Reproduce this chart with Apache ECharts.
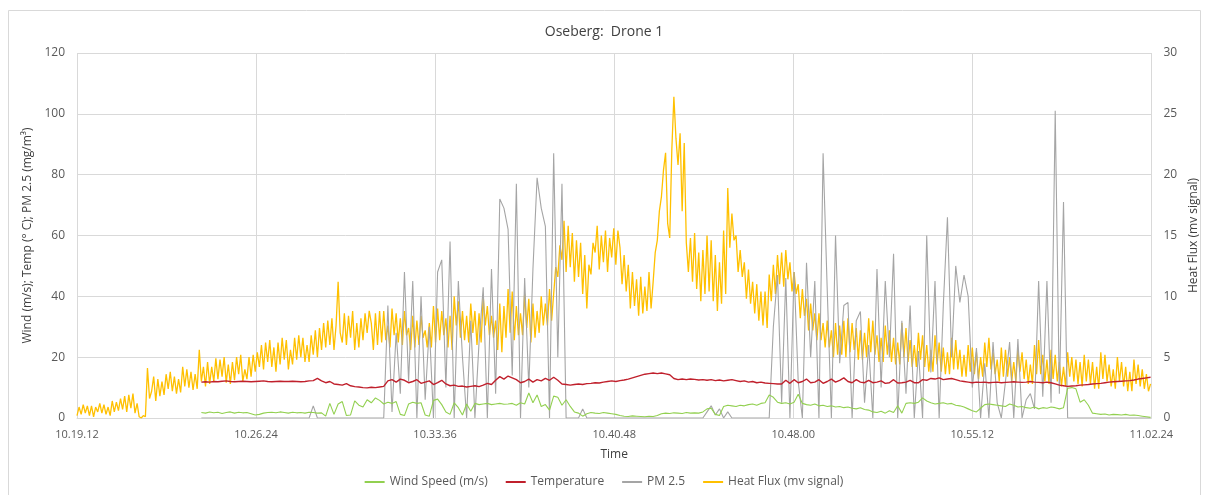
<!DOCTYPE html>
<html>
<head>
<meta charset="utf-8">
<script src="https://cdn.jsdelivr.net/npm/echarts@6/dist/echarts.min.js"></script>
<style>
html,body{margin:0;padding:0;background:#fff;}
#chart{width:1208px;height:495px;}
</style>
</head>
<body>
<div id="chart"></div>
<script>
// X axis: seconds since 10.19.12, ticks every 7 min 12 s
const xTickLabels = ['10.19.12','10.26.24','10.33.36','10.40.48','10.48.00','10.55.12','11.02.24'];
const tickStep = 432;

// Heat flux (mv signal), samples every 5 s from t = 0
const heatFluxStart = 0;
const heatFluxStep = 5;
const heatFlux = [
  0.2,0.9,0.3,1.1,0.4,1.0,0.2,1.0,0.1,0.9,0.5,1.2,0.4,1.1,0.3,0.9,0.2,1.4,0.5,1.3,0.6,1.6,0.7,1.8,0.5,1.9,0.8,2.0,0.4,1.2,
  0.1,0.0,0.2,0.1,4.1,1.6,
  2.2,3.4,1.4,3.2,1.8,3.0,1.9,3.6,2.4,3.8,2.2,3.4,2.0,3.2,2.1,4.2,2.6,4.0,2.5,3.8,2.3,3.6,2.4,5.6,3.0,4.2,
  2.6,4.6,2.8,4.2,3.0,4.9,3.2,4.8,3.4,5.0,2.9,4.4,2.8,4.6,3.1,5.0,3.6,5.2,3.0,4.0,3.2,5.0,3.4,5.2,3.8,5.4,
  4.2,6.0,4.0,6.2,4.6,6.4,4.2,5.8,3.8,6.2,4.4,6.6,4.8,6.4,4.0,5.6,4.4,6.6,4.8,6.8,5.0,6.6,4.6,6.0,4.6,6.8,
  5.2,7.2,5.0,7.4,5.6,7.8,5.8,8.0,6.0,8.2,5.6,7.6,11.2,7.0,6.2,8.6,6.0,8.4,6.6,8.8,5.6,7.8,5.8,8.2,6.4,8.6,7.0,8.8,
  7.8,5.6,8.6,6.0,8.8,6.2,8.8,6.4,7.6,5.8,9.0,6.8,8.6,6.2,8.2,6.0,8.8,6.8,7.4,5.6,8.4,5.8,8.0,6.0,8.4,6.6,7.2,5.8,
  7.8,5.8,9.2,6.2,9.0,6.4,8.8,6.8,8.2,5.8,8.4,5.6,10.0,7.6,9.6,6.6,8.8,6.4,8.4,6.2,9.4,7.0,8.8,6.0,8.6,6.2,10.0,7.6,9.2,6.8,8.4,6.6,
  8.0,5.6,9.4,5.4,9.2,6.6,10.6,7.0,10.4,6.4,9.2,6.8,8.6,6.8,10.2,7.4,9.8,6.2,9.4,6.6,8.8,7.0,10.0,7.6,9.4,7.6,10.6,8.0,10.2,12.4,11.6,14.2,
  13.0,16.2,12.0,15.8,12.4,15.2,11.2,14.6,11.6,14.4,10.2,13.4,9.0,12.6,11.8,14.4,13.6,15.8,12.2,15.0,12.8,15.4,12.0,14.8,13.2,15.6,12.6,15.4,
  14.0,11.0,13.4,10.4,12.6,9.0,12.0,9.2,11.4,8.4,11.6,8.6,10.8,8.8,12.0,9.0,11.2,13.6,14.6,17.0,18.2,20.4,21.8,16.0,14.8,22.0,26.4,23.0,
  20.8,23.4,17.0,22.6,14.4,12.0,14.8,11.2,15.2,10.6,13.6,9.6,13.8,10.2,15.0,10.4,14.6,9.6,13.4,8.8,12.8,9.4,15.4,10.2,18.9,14.0,16.8,14.6,
  15.0,12.0,13.8,11.6,12.8,9.8,12.2,9.4,11.2,8.6,11.0,8.0,10.4,7.6,10.4,7.4,11.8,9.6,12.6,10.2,13.4,11.0,13.6,10.8,13.8,11.4,12.8,10.4,
  12.0,10.2,11.0,8.2,10.6,8.4,9.8,7.2,9.4,7.2,8.6,6.4,8.6,6.4,7.8,5.8,8.0,5.8,7.2,5.0,7.8,5.2,
  7.6,5.2,8.0,5.0,8.2,5.4,7.8,5.6,
  7.4,4.8,7.2,4.8,7.0,5.0,8.2,5.4,
  8.0,5.2,6.8,4.6,6.6,4.6,7.6,5.2,
  7.2,4.6,6.6,4.4,6.2,4.4,7.8,5.0,
  7.4,4.6,6.4,4.2,6.0,4.2,7.0,4.8,
  6.8,4.2,6.0,3.8,5.6,3.8,6.8,4.4,
  6.2,3.8,5.8,3.6,5.4,3.6,6.6,4.0,
  6.4,4.0,5.6,3.4,5.2,3.4,6.0,3.8,
  5.8,3.6,5.4,3.2,5.0,3.4,6.2,4.2,
  6.6,4.0,5.4,3.6,4.8,3.0,5.8,3.4,
  5.6,3.4,5.0,3.0,4.6,3.0,5.6,3.8,
  5.4,3.2,4.8,2.8,4.4,2.8,6.0,3.6,
  6.4,3.6,5.2,3.0,4.8,2.8,5.6,3.2,
  5.2,3.0,4.6,2.6,4.2,2.6,5.4,3.4,
  5.0,3.0,4.8,2.8,4.6,2.6,5.2,3.0,
  4.8,2.8,4.6,2.4,4.2,2.4,5.4,3.2,
  5.2,3.0,4.4,2.6,4.0,2.4,5.0,3.0,
  4.6,2.6,4.2,2.2,3.8,2.2,4.8,2.8,
  4.4,2.6,4.0,2.4,3.6,2.2,2.8
];

// PM 2.5 (mg/m3), samples every 10 s from t = 300
const pmStart = 300;
const pmStep = 10;
const pm25 = [
  0,0,0,0,0,0,0,0,0,0,0,0,0,0,0,0,0,0,0,0,0,0,0,0,0,0,0,
  4,0,0,0,0,0,0,0,0,0,0,0,0,0,0,0,0,0,
  37,2,28,8,48,12,45,0,40,6,30,0,48,52,10,58,0,45,20,0,32,0,25,43,0,49,8,72,69,62,14,77,0,46,10,49,79,69,63,0,87,20,77,0,
  0,0,0,3,
  0,0,0,0,0,0,0,0,0,0,0,0,0,0,0,0,0,0,0,0,0,0,0,0,0,0,0,0,0,
  2,4,1,3,0,2,
  0,0,0,0,0,0,0,0,0,0,
  30,47,5,46,0,48,12,0,51,20,
  45,0,87,42,0,60,18,37,38,0,
  32,35,5,24,0,49,10,45,20,54,
  0,32,8,37,0,22,0,60,15,45,
  0,37,66,20,50,38,47,40,10,23,
  0,18,0,25,5,0,12,25,0,26,
  0,6,8,3,45,7,45,5,101,8,
  71,0,
  0,0,0,0,0,0,0,0,0,0,0,0,0,0,0,0,0,0,0,0
];

// Temperature (deg C), samples every 10 s from t = 300
const tempStart = 300;
const tempStep = 10;
const temperature = [
  11.8,11.9,11.8,12.0,11.9,12.1,12.2,12.0,11.9,12.0,12.1,12.0,11.9,12.0,12.1,12.2,12.0,11.9,12.0,12.1,12.0,12.0,12.1,12.0,11.9,12.0,12.2,12.3,
  13.0,12.2,11.6,12.0,11.2,11.0,10.8,11.3,10.6,10.3,10.2,10.0,9.9,10.1,10.0,10.2,10.4,
  12.2,12.6,11.8,12.8,12.4,11.6,12.0,12.6,11.4,11.8,12.2,11.0,11.6,12.4,
  11.2,10.6,10.8,10.4,10.5,10.2,10.4,10.6,10.3,10.8,11.4,11.0,
  12.4,13.6,12.8,13.8,13.2,12.6,11.6,12.0,12.8,11.8,12.6,12.2,13.0,12.4,13.4,
  12.4,11.2,11.0,10.8,11.0,11.2,11.0,11.3,11.4,11.6,11.5,11.8,12.0,12.2,12.0,
  12.3,12.5,12.8,13.2,13.6,14.0,14.4,14.6,14.8,14.6,14.8,14.5,14.2,13.0,12.6,
  12.8,12.6,12.8,12.7,12.5,12.6,12.4,12.6,12.3,12.5,12.2,12.4,12.6,12.3,12.0,
  12.2,11.8,12.0,11.6,11.8,11.5,11.4,11.3,11.2,11.2,12.4,11.4,12.6,11.6,12.0,
  12.8,11.6,11.8,12.6,11.4,12.0,12.8,11.8,12.4,13.2,12.0,11.6,12.6,11.8,11.6,
  12.4,11.6,11.8,12.2,11.4,11.6,12.6,11.5,11.6,11.8,12.4,11.6,11.6,12.6,12.4,
  13.0,12.8,13.2,12.6,12.8,13.0,12.6,12.2,12.0,11.8,11.6,11.8,11.7,11.8,11.6,
  11.7,11.8,11.6,11.7,11.8,11.9,11.8,11.7,11.8,12.0,11.8,11.7,11.6,11.8,11.6,
  11.2,10.8,10.6,10.4,10.5,10.6,10.8,10.9,11.0,11.2,11.3,11.4,11.6,11.8,11.9,
  12.0,12.1,12.2,12.3,12.5,12.8,13.0,13.2,13.4
];

// Wind speed (m/s), samples every 10 s from t = 300
const windStart = 300;
const windStep = 10;
const windSpeed = [
  1.8,1.6,2.0,1.7,1.9,1.5,1.8,2.0,1.6,1.9,1.7,1.8,1.4,1.0,1.2,1.6,1.8,1.9,1.7,2.0,1.8,1.6,1.9,1.7,1.8,1.6,1.9,1.8,1.6,1.7,
  0.6,4.8,1.2,4.6,5.4,0.8,1.0,5.6,4.2,3.6,6.0,5.0,6.6,5.8,4.6,
  5.2,4.8,5.4,1.2,0.8,4.6,5.2,4.8,5.0,1.0,0.6,5.8,6.2,4.4,2.0,
  1.2,5.0,3.4,1.0,4.6,2.2,4.8,4.4,4.6,4.8,4.4,4.6,4.8,4.5,4.6,
  4.8,4.2,5.0,4.6,8.2,5.0,7.6,3.8,4.4,2.6,7.2,6.8,4.2,6.0,3.8,
  2.0,1.6,0.6,1.4,1.8,1.6,1.5,1.8,1.6,1.4,1.2,0.8,0.6,0.5,0.7,
  0.6,0.5,0.4,0.6,0.5,0.8,1.4,1.6,1.5,1.7,1.6,1.5,1.8,1.6,1.7,
  1.6,2.0,3.0,3.2,1.2,0.8,3.8,4.2,4.0,3.8,4.2,4.0,4.4,4.6,4.2,
  4.8,5.0,7.6,6.8,5.2,4.8,5.0,4.6,5.2,7.8,4.8,4.4,4.2,4.6,4.0,
  4.2,3.8,4.0,3.6,3.8,3.4,3.6,3.2,3.0,3.4,2.8,2.6,2.0,1.8,2.2,
  1.6,2.4,1.8,4.0,1.6,4.8,5.0,4.8,5.2,6.6,5.6,5.0,4.6,4.8,5.0,
  4.6,4.8,4.2,4.0,3.6,3.0,2.4,2.0,3.2,4.4,4.6,4.4,4.2,4.0,3.8,
  4.6,4.2,3.6,3.8,3.4,3.2,3.6,3.0,3.4,3.2,3.6,3.4,3.0,3.4,9.8,
  10.0,9.6,5.2,6.0,4.2,1.6,1.4,1.2,1.3,1.0,1.2,1.1,1.0,1.2,0.9,
  1.0,0.8,0.6,0.4,0.2
];

function pairs(start, step, values) {
  return values.map((v, i) => [start + i * step, v]);
}

const chart = echarts.init(document.getElementById('chart'));
const font = 'Open Sans';
const txt = '#595959';
const grid = '#d9d9d9';

chart.setOption({
  animation: false,
  backgroundColor: '#ffffff',
  graphic: [{
    type: 'rect', shape: { x: 8.5, y: 10.5, width: 1192, height: 490 },
    style: { fill: 'none', stroke: '#d9d9d9', lineWidth: 1 }, silent: true, z: -10
  }],
  title: {
    text: 'Oseberg:  Drone 1', left: 'center', top: 20,
    textStyle: { fontFamily: font, fontSize: 14, fontWeight: 'normal', color: '#404040' }
  },
  legend: {
    bottom: 2, left: 'center', itemWidth: 20, itemHeight: 2, itemGap: 18,
    icon: 'rect',
    textStyle: { fontFamily: font, fontSize: 12, color: txt },
    data: ['Wind Speed (m/s)', 'Temperature', 'PM 2.5', 'Heat Flux (mv signal)']
  },
  grid: { left: 77, right: 50, top: 53, bottom: 77, containLabel: false },
  xAxis: {
    type: 'value', min: 0, max: tickStep * (xTickLabels.length - 1), interval: tickStep,
    name: 'Time', nameLocation: 'middle', nameGap: 31,
    nameTextStyle: { fontFamily: font, fontSize: 12, color: '#404040' },
    axisLine: { show: true, lineStyle: { color: grid } },
    axisTick: { show: false },
    axisLabel: { fontFamily: font, fontSize: 11, color: txt, margin: 11,
      formatter: v => xTickLabels[Math.round(v / tickStep)] || '' },
    splitLine: { show: true, lineStyle: { color: grid, width: 1 } }
  },
  yAxis: [{
    type: 'value', min: 0, max: 120, interval: 20,
    name: 'Wind (m/s); Temp (° C); PM 2.5 (mg/m³)', nameLocation: 'middle', nameGap: 38, nameRotate: 90,
    nameTextStyle: { fontFamily: font, fontSize: 12, color: '#404040' },
    axisLine: { show: false }, axisTick: { show: false },
    axisLabel: { fontFamily: font, fontSize: 12, color: txt, margin: 12 },
    splitLine: { show: true, lineStyle: { color: grid, width: 1 } }
  }, {
    type: 'value', min: 0, max: 30, interval: 5,
    name: 'Heat Flux (mv signal)', nameLocation: 'middle', nameGap: 30, nameRotate: 90,
    nameTextStyle: { fontFamily: font, fontSize: 12, color: '#404040' },
    axisLine: { show: false }, axisTick: { show: false },
    axisLabel: { fontFamily: font, fontSize: 12, color: txt, margin: 12 },
    splitLine: { show: false }
  }],
  series: [{
    name: 'Wind Speed (m/s)', type: 'line', yAxisIndex: 0, showSymbol: false, z: 5,
    data: pairs(windStart, windStep, windSpeed),
    itemStyle: { color: '#92d050' }, lineStyle: { color: '#92d050', width: 1.1 }
  }, {
    name: 'Temperature', type: 'line', yAxisIndex: 0, showSymbol: false, z: 4,
    data: pairs(tempStart, tempStep, temperature),
    itemStyle: { color: '#c0202c' }, lineStyle: { color: '#c0202c', width: 1.4 }
  }, {
    name: 'PM 2.5', type: 'line', yAxisIndex: 0, showSymbol: false, z: 3,
    data: pairs(pmStart, pmStep, pm25),
    itemStyle: { color: '#a5a5a5' }, lineStyle: { color: '#a5a5a5', width: 1.1 }
  }, {
    name: 'Heat Flux (mv signal)', type: 'line', yAxisIndex: 1, showSymbol: false, z: 2,
    data: pairs(heatFluxStart, heatFluxStep, heatFlux),
    itemStyle: { color: '#ffc000' }, lineStyle: { color: '#ffc000', width: 1.3 }
  }]
});
</script>
</body>
</html>
